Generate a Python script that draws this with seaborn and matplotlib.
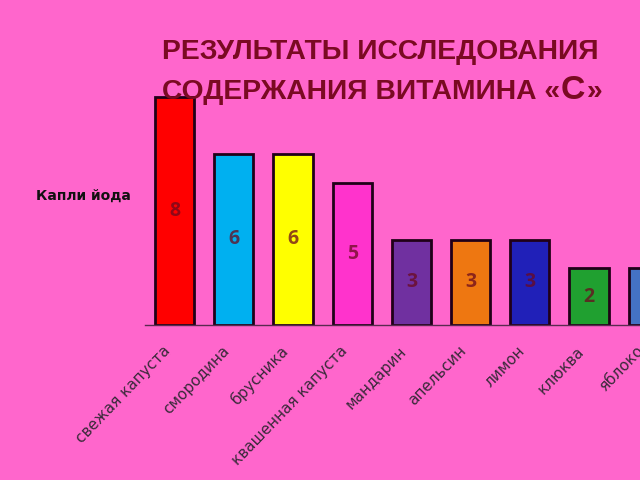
import matplotlib
matplotlib.use("Agg")
import matplotlib.pyplot as plt
import matplotlib.transforms as mtransforms
import seaborn as sns
import pandas as pd

categories = ["свежая капуста", "смородина", "брусника", "квашенная капуста",
              "мандарин", "апельсин", "лимон", "клюква", "яблоко"]
values = [8, 6, 6, 5, 3, 3, 3, 2, 2]
title_line1 = "РЕЗУЛЬТАТЫ ИССЛЕДОВАНИЯ"
title_line2 = "СОДЕРЖАНИЯ ВИТАМИНА «"
title_big = "С"
title_end = "»"
ylabel = "Капли йода"

bar_colors = ["#FF0000", "#00B0F0", "#FFFF00", "#FF33CC", "#7030A0",
              "#EE7711", "#2020B8", "#20A030", "#4472C4"]
bg = "#FF66CC"
title_color = "#7A0A22"

sns.set_theme(style="white")
plt.rcParams["font.family"] = ["DejaVu Sans"]

df = pd.DataFrame({"cat": categories, "val": values})

fig = plt.figure(figsize=(6.4, 4.8), dpi=100, facecolor=bg)
W, H = 640, 480
ax = fig.add_axes([145 / W, 155 / H, 59.2 * 9 / W, 8.5 * 28.5 / H])
ax.set_facecolor(bg)

sns.barplot(data=df, x="cat", y="val", hue="cat", palette=bar_colors,
            legend=False, width=0.66, edgecolor="#200018", linewidth=2,
            saturation=1, ax=ax)

ax.set_xlim(-0.5, 8.5)
ax.set_ylim(0, 8.5)
for c in ax.containers:
    ax.bar_label(c, label_type="center", fontsize=14, fontweight="bold",
                 color="#6b0a1e", alpha=0.75, family="Open Sans")

for s in ["top", "right", "left"]:
    ax.spines[s].set_visible(False)
ax.spines["bottom"].set_color("#5a2a50")
ax.spines["bottom"].set_linewidth(1)
ax.set_yticks([])
ax.set_xlabel("")
ax.set_ylabel("")
ax.tick_params(axis="x", length=0, pad=17)
ax.set_xticks(range(len(categories)))
ax.set_xticklabels(categories, rotation=46, ha="right", rotation_mode="anchor",
                   va="center", fontsize=11, color="#3a2a3a")
shift = mtransforms.ScaledTranslation(-7 / 100, 0, fig.dpi_scale_trans)
for lbl in ax.get_xticklabels():
    lbl.set_transform(lbl.get_transform() + shift)

tfs = 20.3
fig.text(380 / W, 1 - 59 / H, title_line1, ha="center", va="baseline",
         fontsize=tfs, fontweight="bold", color=title_color, family="Liberation Sans")
t2 = fig.text(162 / W, 1 - 99 / H, title_line2, ha="left", va="baseline",
              fontsize=tfs, fontweight="bold", color=title_color, family="Liberation Sans")
renderer = fig.canvas.get_renderer()
x2 = t2.get_window_extent(renderer).x1
t3 = fig.text(x2 / W + 1 / W, 1 - 99 / H, title_big, ha="left", va="baseline",
              fontsize=tfs * 1.2, fontweight="bold", color=title_color, family="Liberation Sans")
x3 = t3.get_window_extent(renderer).x1
fig.text(x3 / W + 1 / W, 1 - 99 / H, title_end, ha="left", va="baseline",
         fontsize=tfs, fontweight="bold", color=title_color, family="Liberation Sans")

fig.text(83 / W, 1 - 196 / H, ylabel, ha="center", va="center",
         fontsize=10, fontweight="bold", color="#111111")

fig.savefig("out.png", dpi=100, facecolor=bg)
